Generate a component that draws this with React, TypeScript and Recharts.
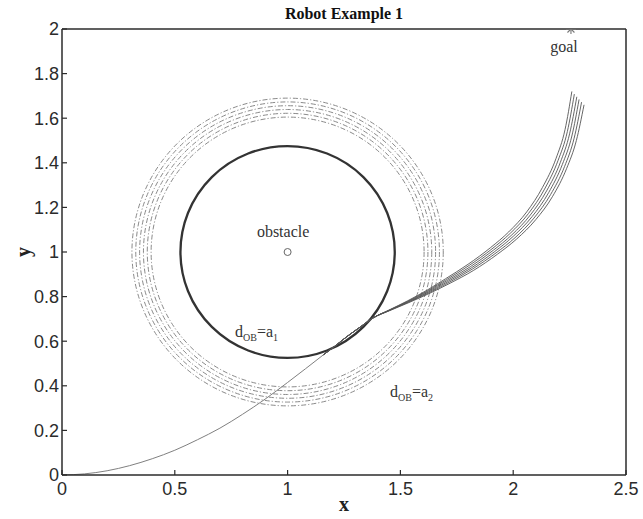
import React from 'react';
import { ComposedChart, XAxis, YAxis, Line, Scatter, ReferenceArea, Label } from 'recharts';

// axis ticks
const xTicks = [0, 0.5, 1, 1.5, 2, 2.5];
const yTicks = [0, 0.2, 0.4, 0.6, 0.8, 1, 1.2, 1.4, 1.6, 1.8, 2];

// obstacle / goal markers
const obstacle = [{ x: 1, y: 1 }];
const goal = [{ x: 2.256, y: 2 }];

// d_OB = a1 (solid) and d_OB = a2 band (dash-dot), all centred on the obstacle
const innerRadius = [0.475];
const outerRadii = [0.605, 0.622, 0.639, 0.656, 0.673, 0.69];

// robot path from the origin up to the obstacle
const approach = [
  { x: 0, y: 0 }, { x: 0.1, y: 0.005 }, { x: 0.2, y: 0.019 }, { x: 0.3, y: 0.042 },
  { x: 0.4, y: 0.073 }, { x: 0.5, y: 0.111 }, { x: 0.6, y: 0.158 }, { x: 0.7, y: 0.21 },
  { x: 0.8, y: 0.272 }, { x: 0.9, y: 0.34 }, { x: 1.0, y: 0.415 }, { x: 1.08, y: 0.477 },
  { x: 1.16, y: 0.54 },
];

// shared piece along the obstacle rim
const rim = [
  { x: 1.16, y: 0.54 }, { x: 1.21, y: 0.578 }, { x: 1.262, y: 0.62 }, { x: 1.32, y: 0.662 },
  { x: 1.38, y: 0.705 },
];

const run1 = [
  { x: 1.45, y: 0.74 }, { x: 1.53, y: 0.78 }, { x: 1.62, y: 0.83 }, { x: 1.7, y: 0.88 },
  { x: 1.8, y: 0.945 }, { x: 1.9, y: 1.02 }, { x: 1.98, y: 1.09 }, { x: 2.06, y: 1.18 },
  { x: 2.13, y: 1.29 }, { x: 2.19, y: 1.42 }, { x: 2.23, y: 1.55 }, { x: 2.26, y: 1.72 },
];
const run2 = [
  { x: 1.45, y: 0.739 }, { x: 1.531, y: 0.778 }, { x: 1.622, y: 0.827 }, { x: 1.704, y: 0.876 },
  { x: 1.805, y: 0.94 }, { x: 1.906, y: 1.014 }, { x: 1.987, y: 1.084 }, { x: 2.068, y: 1.173 },
  { x: 2.139, y: 1.282 }, { x: 2.199, y: 1.411 }, { x: 2.24, y: 1.54 }, { x: 2.271, y: 1.708 },
];
const run3 = [
  { x: 1.45, y: 0.738 }, { x: 1.532, y: 0.777 }, { x: 1.624, y: 0.824 }, { x: 1.708, y: 0.872 },
  { x: 1.81, y: 0.934 }, { x: 1.912, y: 1.008 }, { x: 1.994, y: 1.077 }, { x: 2.076, y: 1.166 },
  { x: 2.148, y: 1.274 }, { x: 2.209, y: 1.402 }, { x: 2.25, y: 1.53 }, { x: 2.282, y: 1.696 },
];
const run4 = [
  { x: 1.45, y: 0.738 }, { x: 1.533, y: 0.775 }, { x: 1.626, y: 0.821 }, { x: 1.712, y: 0.868 },
  { x: 1.815, y: 0.929 }, { x: 1.918, y: 1.002 }, { x: 2.001, y: 1.071 }, { x: 2.084, y: 1.159 },
  { x: 2.157, y: 1.266 }, { x: 2.218, y: 1.393 }, { x: 2.26, y: 1.52 }, { x: 2.292, y: 1.684 },
];
const run5 = [
  { x: 1.45, y: 0.737 }, { x: 1.534, y: 0.774 }, { x: 1.628, y: 0.818 }, { x: 1.716, y: 0.864 },
  { x: 1.82, y: 0.924 }, { x: 1.924, y: 0.996 }, { x: 2.008, y: 1.064 }, { x: 2.092, y: 1.152 },
  { x: 2.166, y: 1.258 }, { x: 2.228, y: 1.384 }, { x: 2.27, y: 1.51 }, { x: 2.303, y: 1.672 },
];
const run6 = [
  { x: 1.45, y: 0.736 }, { x: 1.535, y: 0.772 }, { x: 1.63, y: 0.815 }, { x: 1.72, y: 0.86 },
  { x: 1.825, y: 0.918 }, { x: 1.93, y: 0.99 }, { x: 2.015, y: 1.058 }, { x: 2.1, y: 1.145 },
  { x: 2.175, y: 1.25 }, { x: 2.237, y: 1.375 }, { x: 2.28, y: 1.5 }, { x: 2.314, y: 1.66 },
];
const runs = [run1, run2, run3, run4, run5, run6];

// text annotations (data coordinates)
const notes = [
  { x: 0.98, y: 1.069, main: 'obstacle' },
  { x: 2.225, y: 1.897, main: 'goal' },
];
const distNotes = [
  { x: 0.767, y: 0.62, sub: '1' },
  { x: 1.454, y: 0.351, sub: '2' },
];

const serif = '"Liberation Serif", "Times New Roman", serif';
const sans = '"Liberation Sans", Arial, sans-serif';
const axisColor = '#2b2b2b';
const tickStyle = { fill: '#2b2b2b', fontSize: 18, fontFamily: sans };

const circleShape = (dash?: string, color = '#333', width = 2.2) => (p: any) => (
  <ellipse
    cx={p.x + p.width / 2}
    cy={p.y + p.height / 2}
    rx={Math.abs(p.width) / 2}
    ry={Math.abs(p.height) / 2}
    fill="none"
    stroke={color}
    strokeWidth={width}
    strokeDasharray={dash}
  />
);

const obstacleShape = (p: any) => (
  <circle cx={p.cx} cy={p.cy} r={3.5} fill="#fff" stroke="#666" strokeWidth={1} />
);

const goalShape = (p: any) => (
  <g stroke="#777" strokeWidth={1.1}>
    <line x1={p.cx - 5} y1={p.cy} x2={p.cx + 5} y2={p.cy} />
    <line x1={p.cx} y1={p.cy - 5} x2={p.cx} y2={p.cy + 5} />
    <line x1={p.cx - 3.5} y1={p.cy - 3.5} x2={p.cx + 3.5} y2={p.cy + 3.5} />
    <line x1={p.cx - 3.5} y1={p.cy + 3.5} x2={p.cx + 3.5} y2={p.cy - 3.5} />
  </g>
);

const noteShape = (p: any) => (
  <text x={p.cx} y={p.cy} textAnchor="middle" fontFamily={serif} fontSize={16} fill="#333">
    {p.payload.main}
  </text>
);

const distShape = (p: any) => (
  <text x={p.cx} y={p.cy} fontFamily={serif} fontSize={16} fill="#333">
    d
    <tspan dy={4} fontSize={10}>OB</tspan>
    <tspan dy={-4}>=a</tspan>
    <tspan dy={4} fontSize={10}>{p.payload.sub}</tspan>
  </text>
);

const axisLine = { stroke: axisColor, strokeWidth: 1.5 };
const tickLine = { stroke: axisColor, strokeWidth: 1.2 };

export default function App() {
  return (
    <div style={{ position: 'absolute', left: 0, top: 0, width: 643, height: 519, background: '#fff' }}>
      <ComposedChart width={643} height={519} margin={{ top: 28, right: 16, bottom: 0, left: 22 }}>
        <XAxis
          type="number"
          dataKey="x"
          domain={[0, 2.5]}
          ticks={xTicks}
          allowDataOverflow
          height={44}
          tickSize={-5}
          tickMargin={12}
          tick={tickStyle}
          axisLine={axisLine}
          tickLine={tickLine}
        >
          <Label
            content={({ viewBox }: any) => (
              <text
                x={viewBox.x + viewBox.width / 2}
                y={viewBox.y + 36}
                textAnchor="middle"
                fontFamily={serif}
                fontWeight="bold"
                fontSize={20}
                fill="#222"
              >
                x
              </text>
            )}
          />
        </XAxis>
        <XAxis
          xAxisId="top"
          orientation="top"
          type="number"
          dataKey="x"
          domain={[0, 2.5]}
          ticks={xTicks}
          allowDataOverflow
          height={1}
          tickSize={-5}
          tick={false}
          axisLine={axisLine}
          tickLine={tickLine}
        >
          <Label
            content={({ viewBox }: any) => (
              <text
                x={viewBox.x + viewBox.width / 2}
                y={viewBox.y - 9}
                textAnchor="middle"
                fontFamily={serif}
                fontWeight="bold"
                fontSize={16}
                fill="#111"
              >
                Robot Example 1
              </text>
            )}
          />
        </XAxis>
        <YAxis
          type="number"
          dataKey="y"
          domain={[0, 2]}
          ticks={yTicks}
          allowDataOverflow
          width={40}
          tickSize={-5}
          tickMargin={8}
          tick={tickStyle}
          axisLine={axisLine}
          tickLine={tickLine}
        >
          <Label
            content={({ viewBox }: any) => {
              const cx = viewBox.x + 1;
              const cy = viewBox.y + viewBox.height / 2;
              return (
                <text
                  x={cx}
                  y={cy}
                  transform={`rotate(-90 ${cx} ${cy})`}
                  textAnchor="middle"
                  dominantBaseline="central"
                  fontFamily={serif}
                  fontWeight="bold"
                  fontSize={20}
                  fill="#222"
                >
                  y
                </text>
              );
            }}
          />
        </YAxis>
        <YAxis
          yAxisId="right"
          orientation="right"
          type="number"
          dataKey="y"
          domain={[0, 2]}
          ticks={yTicks}
          allowDataOverflow
          width={1}
          tickSize={-5}
          tick={false}
          axisLine={axisLine}
          tickLine={tickLine}
        />

        {outerRadii.map((r) => (
          <ReferenceArea
            key={`o${r}`}
            x1={obstacle[0].x - r}
            x2={obstacle[0].x + r}
            y1={obstacle[0].y - r}
            y2={obstacle[0].y + r}
            shape={circleShape('5 2 1.2 2', '#8a8a8a', 1)}
          />
        ))}
        {innerRadius.map((r) => (
          <ReferenceArea
            key={`i${r}`}
            x1={obstacle[0].x - r}
            x2={obstacle[0].x + r}
            y1={obstacle[0].y - r}
            y2={obstacle[0].y + r}
            shape={circleShape(undefined, '#333', 2.3)}
          />
        ))}

        <Line
          data={approach}
          dataKey="y"
          type="monotone"
          stroke="#808080"
          strokeWidth={1}
          dot={false}
          activeDot={false}
          isAnimationActive={false}
        />
        {runs.map((run, i) => (
          <Line
            key={i}
            data={[...rim, ...run]}
            dataKey="y"
            type="monotone"
            stroke="#555"
            strokeWidth={0.9}
            dot={false}
            activeDot={false}
            isAnimationActive={false}
          />
        ))}

        <Scatter data={obstacle} shape={obstacleShape} isAnimationActive={false} />
        <Scatter
          data={goal}
          xAxisId="top"
          yAxisId="right"
          shape={goalShape}
          isAnimationActive={false}
        />
        <Scatter data={notes} shape={noteShape} isAnimationActive={false} />
        <Scatter data={distNotes} shape={distShape} isAnimationActive={false} />
      </ComposedChart>
    </div>
  );
}
